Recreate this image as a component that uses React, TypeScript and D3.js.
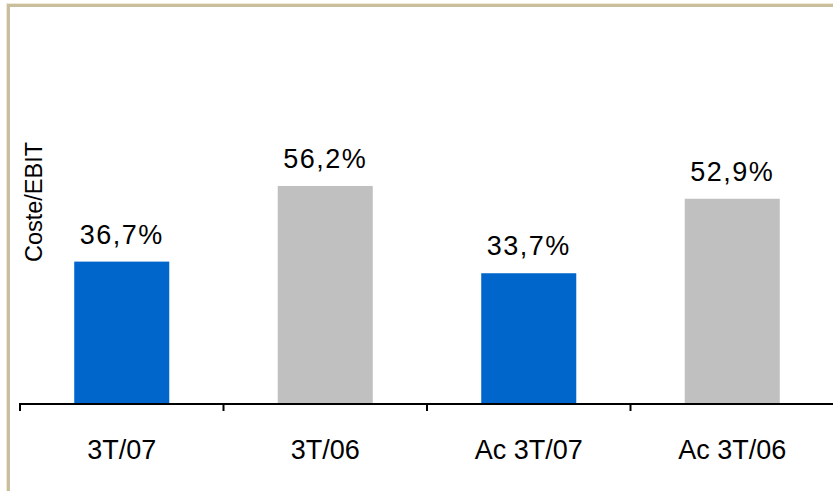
import React from "react";
import * as d3 from "d3";

const categories = ["3T/07", "3T/06", "Ac 3T/07", "Ac 3T/06"];
const values = [36.7, 56.2, 33.7, 52.9];
const valueLabels = ["36,7%", "56,2%", "33,7%", "52,9%"];
const barColors = ["#0066CC", "#C0C0C0", "#0066CC", "#C0C0C0"];
const yTitle = "Coste/EBIT";

const W = 833;
const H = 491;
const FONT = "Arial, 'Liberation Sans', sans-serif";

export default function App() {
  const x0 = 20;
  const x1 = 834;
  const baseY = 404;
  const x = d3
    .scaleBand<string>()
    .domain(categories)
    .range([x0, x1])
    .paddingInner(0.533)
    .paddingOuter(0.2665);
  const y = d3.scaleLinear().domain([0, 100]).range([baseY, 16]);
  const step = (x1 - x0) / categories.length;
  const tickXs = d3.range(categories.length + 1).map((i) => x0 + i * step);

  return (
    <svg
      width={W}
      height={H}
      style={{ position: "absolute", left: 0, top: 0, background: "#fff" }}
    >
      {/* frame */}
      <rect x={6} y={3} width={W - 6} height={1} fill="#EDE8D8" />
      <rect x={6} y={3} width={1} height={H - 3} fill="#EDE8D8" />
      <rect x={7} y={4} width={W - 7} height={3} fill="#C9BF9C" />
      <rect x={7} y={4} width={3} height={H - 4} fill="#C9BF9C" />

      {/* bars */}
      {categories.map((c, i) => (
        <rect
          key={c}
          x={x(c)}
          y={y(values[i])}
          width={x.bandwidth()}
          height={baseY - y(values[i])}
          fill={barColors[i]}
        />
      ))}

      {/* value labels */}
      {categories.map((c, i) => (
        <text
          key={"v" + c}
          x={(x(c) as number) + x.bandwidth() / 2}
          y={y(values[i]) - 18}
          textAnchor="middle"
          fontFamily={FONT}
          fontSize={27}
          letterSpacing={1.5}
          fill="#000"
        >
          {valueLabels[i]}
        </text>
      ))}

      {/* axis */}
      <line x1={x0 - 1} x2={W} y1={baseY} y2={baseY} stroke="#000" strokeWidth={2} />
      {tickXs.map((tx, i) => (
        <line
          key={"t" + i}
          x1={tx}
          x2={tx}
          y1={baseY}
          y2={baseY + 7}
          stroke="#000"
          strokeWidth={2}
        />
      ))}

      {/* category labels */}
      {categories.map((c) => (
        <text
          key={"c" + c}
          x={(x(c) as number) + x.bandwidth() / 2}
          y={459}
          textAnchor="middle"
          fontFamily={FONT}
          fontSize={27}
          fill="#000"
        >
          {c}
        </text>
      ))}

      {/* y title */}
      <text
        transform={`translate(42, 202) rotate(-90)`}
        textAnchor="middle"
        fontFamily={FONT}
        fontSize={23.5}
        fill="#000"
      >
        {yTitle}
      </text>
    </svg>
  );
}
